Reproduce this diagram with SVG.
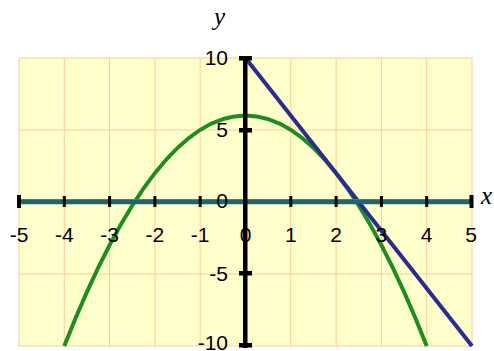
<svg xmlns="http://www.w3.org/2000/svg" width="494" height="351" viewBox="0 0 494 351">
<style>
.grid{stroke:#ffcc99;stroke-width:1;fill:none}
.lbl{font-family:"Liberation Sans",Arial,sans-serif;font-size:21px;fill:#000}
.var{font-family:"Liberation Serif","Times New Roman",serif;font-style:italic;font-size:25px;fill:#000}
.tick{fill:#000}
</style>
<rect width="494" height="351" fill="#ffffff"/>
<g id="plot-area">
<rect x="19" y="58" width="453" height="288" fill="#ffffcc" stroke="#ffcc99" stroke-width="1"/>
<g class="grid">
<path d="M64.3,58V346M109.6,58V346M154.9,58V346M200.2,58V346M245.5,58V346M290.8,58V346M336.1,58V346M381.4,58V346M426.7,58V346"/>
<path d="M19,130H472M19,274H472"/>
</g>
</g>
<g id="connectors">
<path id="parabola" d="M64.3,346 Q245.5,-114.8 426.7,346" fill="none" stroke="#1e8c1e" stroke-width="4"/>
<path id="line" d="M245.5,58 L472,346" fill="none" stroke="#2c2c8c" stroke-width="4"/>
</g>
<g id="x-axis">
<line x1="19" y1="199.5" x2="472" y2="199.5" stroke="#b06060" stroke-width="1"/>
<line x1="19" y1="202" x2="472" y2="202" stroke="#1f6570" stroke-width="4.5"/>
<g class="tick">
<rect x="17" y="195" width="4" height="13"/>
<rect x="62.8" y="196" width="3" height="11"/>
<rect x="108.1" y="196" width="3" height="11"/>
<rect x="153.4" y="196" width="3" height="11"/>
<rect x="198.7" y="196" width="3" height="11"/>
<rect x="289.3" y="196" width="3" height="11"/>
<rect x="334.6" y="196" width="3" height="11"/>
<rect x="379.9" y="196" width="3" height="11"/>
<rect x="425.2" y="196" width="3" height="11"/>
<rect x="469.5" y="195" width="4" height="13"/>
</g>
</g>
<g id="y-axis">
<rect x="243" y="56" width="4.5" height="292" fill="#000"/>
<g class="tick">
<rect x="239" y="56" width="13" height="4.5"/>
<rect x="239" y="128" width="13" height="4.5"/>
<rect x="239" y="271" width="13" height="4.5"/>
<rect x="239" y="343" width="13" height="4.5"/>
</g>
</g>
<g id="labels">
<g class="lbl" text-anchor="end">
<text x="228" y="64.5">10</text>
<text x="228" y="137">5</text>
<text x="228" y="207.5">0</text>
<text x="228" y="281">-5</text>
<text x="228" y="350">-10</text>
</g>
<g class="lbl" text-anchor="middle">
<text x="19" y="242">-5</text>
<text x="64.3" y="242">-4</text>
<text x="109.6" y="242">-3</text>
<text x="154.9" y="242">-2</text>
<text x="200.2" y="242">-1</text>
<text x="245.5" y="242">0</text>
<text x="290.8" y="242">1</text>
<text x="336.1" y="242">2</text>
<text x="381.4" y="242">3</text>
<text x="426.7" y="242">4</text>
<text x="471" y="242">5</text>
</g>
<text class="var" x="214" y="25">y</text>
<text class="var" x="481" y="204">x</text>
</g>
</svg>
